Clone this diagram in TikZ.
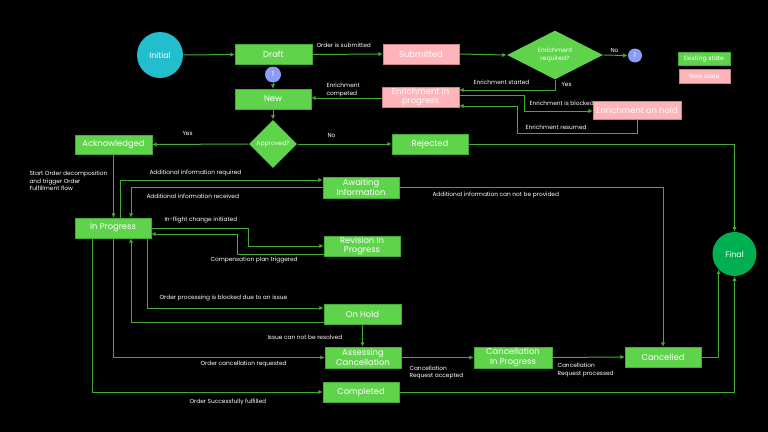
\documentclass[tikz,border=0pt]{standalone}
\usepackage{fontspec}
\setmainfont{Poppins}
\usetikzlibrary{shapes.geometric,arrows.meta}

\definecolor{stategreen}{RGB}{96,211,76}
\definecolor{stateedge}{RGB}{70,170,55}
\definecolor{newpink}{RGB}{255,180,186}
\definecolor{newedge}{RGB}{205,130,140}
\definecolor{flowgreen}{RGB}{68,170,50}
\definecolor{initteal}{RGB}{35,190,205}
\definecolor{finalgreen}{RGB}{0,176,80}
\definecolor{connblue}{RGB}{140,155,245}

\tikzset{every picture/.style={line width=0.75pt}}
\tikzset{
  state/.style={rectangle, fill=stategreen, draw=stateedge, line width=0.4pt, text=white,
    font=\fontsize{6.3}{7.2}\selectfont, align=center, minimum width=57pt, minimum height=15pt, inner sep=0.5pt},
  newstate/.style={state, fill=newpink, draw=newedge},
  decision/.style={diamond, fill=stategreen, text=white, inner sep=0pt, align=center,
    font=\fontsize{4.6}{6}\selectfont},
  terminal/.style={circle, text=white, inner sep=0pt, font=\fontsize{6}{7}\selectfont},
  connector/.style={circle, fill=connblue, text=white, inner sep=0pt, font=\fontsize{5}{6}\selectfont},
  flow/.style={draw=flowgreen, line width=0.75pt, -{Latex[length=3.2pt,width=3.2pt]}},
  lbl/.style={text=white, font=\fontsize{4.4}{5.6}\selectfont, inner sep=0pt, anchor=west, align=left}
}

\begin{document}
\begin{tikzpicture}[x=0.75pt,y=0.75pt,yscale=-1,xscale=1]
%background
\fill[black] (0,0) rectangle (768,432);
\useasboundingbox (0,0) rectangle (768,432);

% States
\node[terminal, fill=initteal, minimum size=34.5pt] (initial) at (160,55) {Initial};
\node[state, minimum width=57.75pt] (draft) at (273.5,54.5) {Draft};
\node[connector, minimum size=12pt] (one1) at (273,74.5) {1};
\node[state] (new) at (273,99) {New};
\node[newstate] (submitted) at (421,54) {Submitted};
\node[decision, minimum width=72pt, minimum height=33pt] (enrq) at (555,55) {Enrichment\\required?};
\node[connector, minimum size=10.5pt] (one2) at (635,55.5) {1};
\node[newstate, minimum width=57.75pt] (enrprog) at (420.5,97) {Enrichment in\\progress};
\node[newstate, minimum width=66pt, minimum height=13.5pt] (enrhold) at (637,110) {Enrichment on hold};
\node[decision, minimum width=36pt, minimum height=36pt] (approved) at (273,144) {Approved?};
\node[state, minimum width=57.75pt, minimum height=14.25pt] (ack) at (113.5,144.5) {Acknowledged};
\node[state] (rejected) at (430,144) {Rejected};
\node[terminal, fill=finalgreen, minimum size=33pt] (final) at (734.5,254) {Final};
\node[state, minimum height=15.75pt] (await) at (361,187.5) {Awaiting\\Information};
\node[state] (inprog) at (113,228) {In Progress};
\node[state] (revision) at (362,246) {Revision In\\Progress};
\node[state, minimum width=57.75pt] (onhold) at (362.5,314) {On Hold};
\node[state, minimum height=15.75pt] (assess) at (363,357.5) {Assessing\\Cancellation};
\node[state, minimum width=58.5pt, minimum height=15.75pt] (cip) at (513,357.5) {Cancellation\\In Progress};
\node[state] (cancelled) at (663,357) {Cancelled};
\node[state] (completed) at (361,392) {Completed};

% Legend
\node[state, minimum width=39pt, minimum height=9.75pt, font=\fontsize{4.6}{5}\selectfont] (legold) at (704,58.5) {Existing state};
\node[newstate, minimum width=38.25pt, minimum height=10.5pt, font=\fontsize{4.6}{5}\selectfont] (legnew) at (704.5,76) {New state};

% Transitions
\draw[flow] (initial.east) -- (draft.west);
\draw[flow] (draft.east) -- (submitted.west);
\draw[flow] (one1.south) -- (new.north);
\draw[flow] (submitted.east) -- (enrq.west);
\draw[flow] (enrq.east) -- (one2.west);
\draw[flow] (enrq.south) |- (enrprog.east |- 0,90);
\draw[flow] (enrprog.west |- 0,98) -- (new.east |- 0,98);
\draw[flow] (enrprog.east |- 0,95) -| (524,111) -- (enrhold.west |- 0,111);
\draw[flow] (enrhold.south) -- (637,133) -| (517,106) -- (enrprog.east |- 0,106);
\draw[flow] (new.south) -- (approved.north);
\draw[flow] (approved.west) -- (ack.east);
\draw[flow] (approved.east) -- (rejected.west);
\draw[flow] (rejected.east) -| (final.north);
\draw[flow] (ack.south) -- (inprog.north -| ack.south);
\draw[flow] (inprog.north -| 120,0) |- (await.west |- 0,180);
\draw[flow] (await.west |- 0,187) -| (inprog.north -| 131,0);
\draw[flow] (await.east |- 0,187) -| (cancelled.north);
\draw[flow] (inprog.east) -| (248,246) -- (revision.west);
\draw[flow] (revision.west |- 0,254) -| (237,234) -- (inprog.east |- 0,234);
\draw[flow] (inprog.south -| 147,0) |- (onhold.west |- 0,308);
\draw[flow] (onhold.west |- 0,322) -| (inprog.south -| 131,0);
\draw[flow] (onhold.south) -- (assess.north -| onhold.south);
\draw[flow] (inprog.south) |- (assess.west);
\draw[flow] (inprog.south -| 92,0) |- (completed.west);
\draw[flow] (assess.east) -- (cip.west);
\draw[flow] (cip.east) -- (cancelled.west);
\draw[flow] (cancelled.east) -| (final.south west);
\draw[flow] (completed.east) -| (final.south);

% Text Node
\node[lbl] (tsubmit) at (316,45) {Order is submitted};
\node[lbl] (tno1) at (610,50) {No};
\node[lbl] (tyes1) at (561,84) {Yes};
\node[lbl] (tstart) at (473,82) {Enrichment started};
\node[lbl] (tdone) at (326,90) {Enrichment\\competed};
\node[lbl] (tblock) at (529,103) {Enrichment is blocked};
\node[lbl] (tresume) at (525,127) {Enrichment resumed};
\node[lbl] (tyes2) at (182,133) {Yes};
\node[lbl] (tno2) at (327,135) {No};
\node[lbl] (tstartord) at (29,181) {Start Order decomposition\\and trigger Order\\Fulfillment flow};
\node[lbl] (treq) at (149,173) {Additional information required};
\node[lbl] (trecv) at (146,196) {Additional information received};
\node[lbl] (tnoprov) at (432,195) {Additional information can not be provided};
\node[lbl] (tflight) at (164,220) {In-flight change initiated};
\node[lbl] (tcomp) at (210,260) {Compensation plan triggered};
\node[lbl] (tblocked) at (159,298) {Order processing is blocked due to an issue};
\node[lbl] (tissue) at (267,337) {Issue can not be resolved};
\node[lbl] (tcancreq) at (200,364) {Order cancellation requested};
\node[lbl] (tfulfil) at (189,402) {Order Successfully fulfilled};
\node[lbl] (taccept) at (409,372.5) {Cancellation\\Request accepted};
\node[lbl] (tproc) at (557,370) {Cancellation\\Request processed};

\end{tikzpicture}
\end{document}
